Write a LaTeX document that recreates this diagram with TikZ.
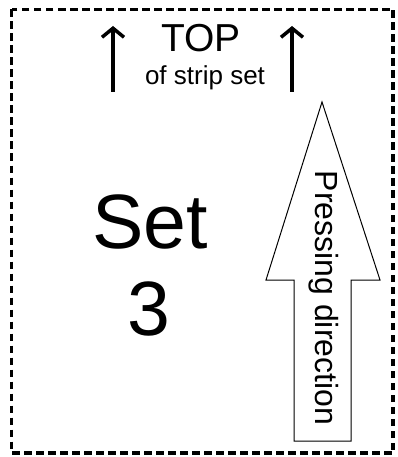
\documentclass[tikz,border=0pt]{standalone}
\usepackage{fontspec}
\setmainfont{Liberation Sans}
\usetikzlibrary{arrows.meta}
\begin{document}
\begin{tikzpicture}[x=1pt,y=1pt,
  border/.style={line width=3.4pt,dash pattern=on 7.5pt off 4.5pt},
  toparrow/.style={line width=3.5pt,-{Straight Barb[length=9pt,width=22pt,line width=3.5pt]}},
  bigarrow/.style={draw,line width=1pt,fill=white},
  txt/.style={inner sep=0pt,anchor=base}]
\useasboundingbox (0,0) rectangle (398,-457);
\draw[border] (11.5,-9.5) rectangle (393,-453);
% top arrows
\coordinate (la0) at (113,-92);
\coordinate (la1) at (113,-26);
\coordinate (ra0) at (292,-92);
\coordinate (ra1) at (292,-26);
\draw[toparrow] (la0) -- (la1);
\draw[toparrow] (ra0) -- (ra1);
\node[txt,font=\fontsize{39}{44}\selectfont] (top) at (201,-52) {TOP};
\node[txt,font=\fontsize{26}{30}\selectfont] (strip) at (205,-85) {of strip set};
% set label
\node[txt,font=\fontsize{77}{87}\selectfont] (set) at (150,-248) {Set};
\node[txt,font=\fontsize{77}{87}\selectfont] (num) at (149,-335) {3};
% pressing arrow
\draw[bigarrow] (322,-102) -- (380,-280) -- (351,-280) -- (351,-441)
  -- (294,-441) -- (294,-280) -- (266,-280) -- cycle;
\node[txt,rotate=-90,font=\fontsize{32}{36}\selectfont] (press) at (315,-298) {Pressing direction};
\end{tikzpicture}
\end{document}
